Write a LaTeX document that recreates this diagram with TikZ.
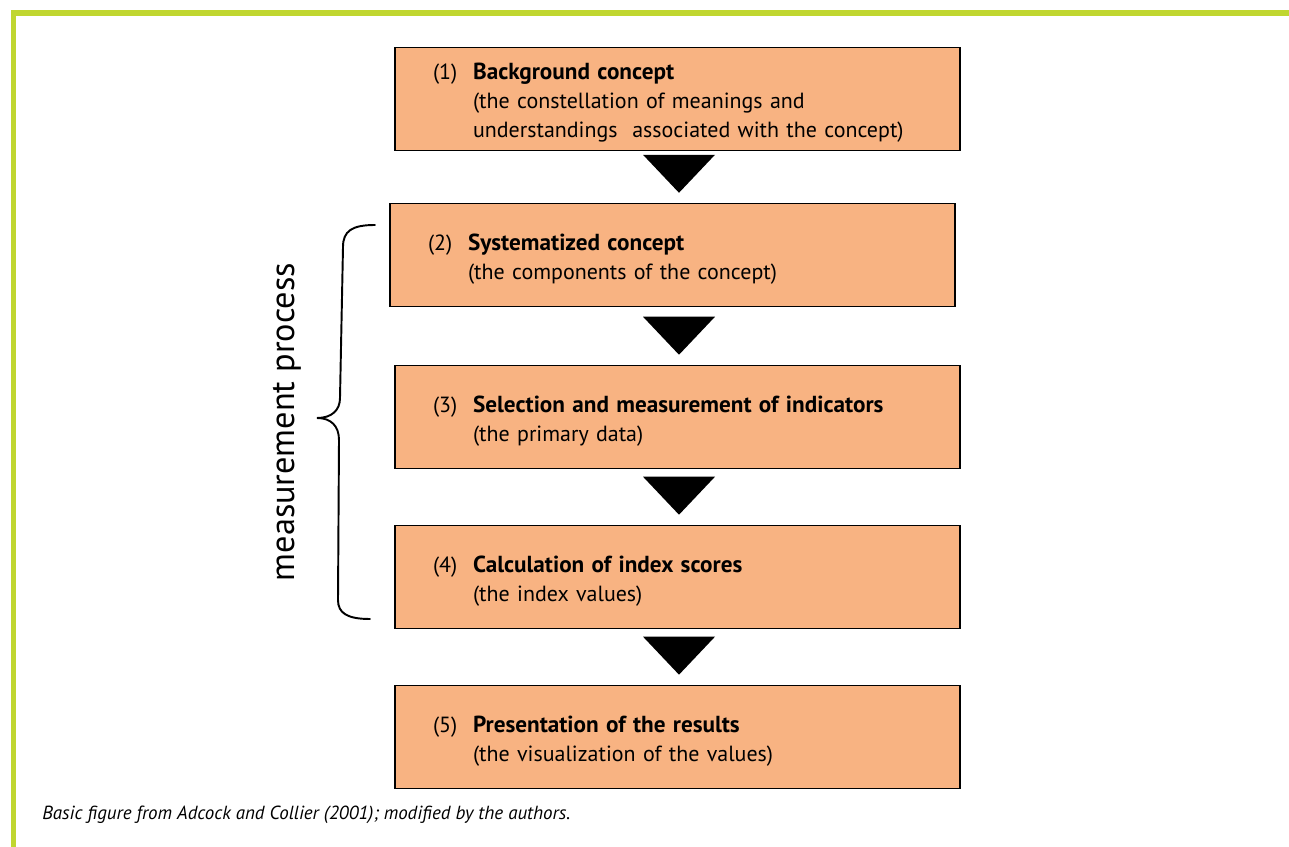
\documentclass[tikz,border=0pt]{standalone}
\usepackage{fontspec}
\setmainfont{PT Sans}
\usepackage{xcolor}
\usetikzlibrary{positioning, calc}

\definecolor{stageorange}{RGB}{248,179,130}
\definecolor{framegreen}{RGB}{192,214,48}

\newcommand{\stagetitle}[1]{{\fontsize{13.2}{16.5}\selectfont\bfseries #1}}

\begin{document}
\begin{tikzpicture}[
            x = 0.02cm, % one pixel of the original figure
            y = -0.02cm, % y runs downwards
            node distance = 3.2cm, % distance between stage centres
            semithick % line style
        ]

        \tikzstyle{stage}=[
            draw = black,
            line width = 0.8pt,
            fill = stageorange,
            text width = 9.78cm,
            inner xsep = 0.76cm,
            minimum height = 2.06cm,
            align = left,
            font = \fontsize{12.5}{16.5}\selectfont
        ]
        \tikzstyle{curly}=[line width = 1.1pt, line cap = round]

        \useasboundingbox (0,0) rectangle (1289,847);
        \draw[framegreen, line width = 0.11cm] (1289,13) -- (13.5,13) -- (13.5,847);

        \node[stage] (b1) at (677.5,99) {\begin{tabular}{@{}p{0.8cm}@{}l@{}}
            (1) & \stagetitle{Background concept}\\
                & (the constellation of meanings and\\
                & understandings\ \ associated with the concept)\\[-0.16cm]
            \end{tabular}};
        \node[stage] (b2) [below of=b1, xshift=-0.1cm, yshift=0.08cm] {\begin{tabular}{@{}p{0.8cm}@{}l@{}}
            (2) & \stagetitle{Systematized concept}\\
                & (the components of the concept)\\[-0.16cm]
            \end{tabular}};
        \node[stage] (b3) [below of=b2, xshift=0.1cm, yshift=-0.04cm] {\begin{tabular}{@{}p{0.8cm}@{}l@{}}
            (3) & \stagetitle{Selection and measurement of indicators}\\
                & (the primary data)\\[-0.16cm]
            \end{tabular}};
        \node[stage] (b4) [below of=b3] {\begin{tabular}{@{}p{0.8cm}@{}l@{}}
            (4) & \stagetitle{Calculation of index scores}\\
                & (the index values)\\[-0.16cm]
            \end{tabular}};
        \node[stage] (b5) [below of=b4] {\begin{tabular}{@{}p{0.8cm}@{}l@{}}
            (5) & \stagetitle{Presentation of the results}\\
                & (the visualization of the values)\\[-0.16cm]
            \end{tabular}};

        % arrow heads between the stages
        \foreach \n in {b2, b3, b4, b5}
            \fill ($(b1.south |- \n.north)+(1.5,-10)$) -- ++(-36,-38) -- ++(72,0) -- cycle;

        % brace round stages 2 to 4
        \draw[curly] (375,225) .. controls (352,225) and (343,231) .. (343,247)
            -- (340,398) .. controls (340,410) and (332,418) .. (317,418)
            .. controls (331,418) and (339,426) .. (339,440)
            -- (338,600) .. controls (338,613) and (347,619) .. (370,619);
        \node[rotate=90, font=\fontsize{19.5}{24}\selectfont] (mp) at (287,422) {measurement process};

        \node[anchor=west, font=\itshape\fontsize{10.8}{12}\selectfont] (src) at (36,815)
            {Basic figure from Adcock and Collier (2001); modified by the authors.};
    \end{tikzpicture}
\end{document}
